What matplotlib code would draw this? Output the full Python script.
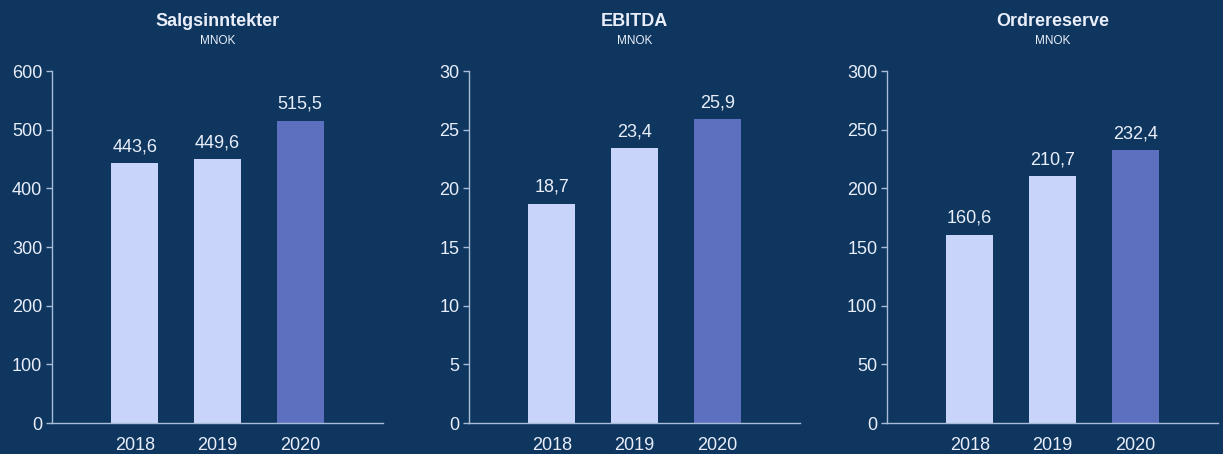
import matplotlib
matplotlib.use("Agg")
import matplotlib.pyplot as plt

plt.rcParams['font.family'] = ['Liberation Sans', 'DejaVu Sans']

years = ["2018", "2019", "2020"]
titles = ["Salgsinntekter", "EBITDA", "Ordrereserve"]
unit = "MNOK"
salg = [443.6, 449.6, 515.5]
ebitda = [18.7, 23.4, 25.9]
ordre = [160.6, 210.7, 232.4]
series = [salg, ebitda, ordre]
ymax = [600, 30, 300]
ystep = [100, 5, 50]

bg = "#0e365e"
light = "#c9d4fb"
dark = "#5d70c0"
txt = "#e9eefa"
axcol = "#a9bdd8"

fig = plt.figure(figsize=(12.23, 4.54), dpi=100, facecolor=bg)
lefts = [52, 469, 887]
W = 1223; H = 454
for i in range(3):
    ax = fig.add_axes([lefts[i] / W, 31 / H, 331 / W, 352 / H])
    ax.set_facecolor(bg)
    vals = series[i]
    xs = list(range(len(years)))
    colors = [light, light, dark]
    ax.bar(xs, vals, width=0.57, color=colors, zorder=2)
    for x, v in zip(xs, vals):
        ax.text(x, v + ymax[i] * 0.022, f"{v:.1f}".replace(".", ","),
                ha="center", va="bottom", color=txt, fontsize=13)
    ax.set_xlim(-1, 3)
    ax.set_ylim(0, ymax[i])
    ax.set_yticks([ystep[i] * k for k in range(7)])
    ax.set_xticks(xs)
    ax.set_xticklabels(years)
    for s in ["top", "right"]:
        ax.spines[s].set_visible(False)
    for s in ["left", "bottom"]:
        ax.spines[s].set_color(axcol)
        ax.spines[s].set_linewidth(1.0)
    ax.tick_params(axis="y", colors=axcol, labelcolor=txt, labelsize=13, length=4, width=1, pad=3)
    ax.tick_params(axis="x", length=0, labelcolor=txt, labelsize=13, pad=10)
    cx = (lefts[i] + 165.5) / W
    fig.text(cx, 1 - 21 / H, titles[i], ha="center", va="center",
             fontsize=13, fontweight="bold", color=txt)
    fig.text(cx, 1 - 41 / H, unit, ha="center", va="center",
             fontsize=8.5, color=txt)

fig.savefig("out.png", dpi=100, facecolor=bg)
